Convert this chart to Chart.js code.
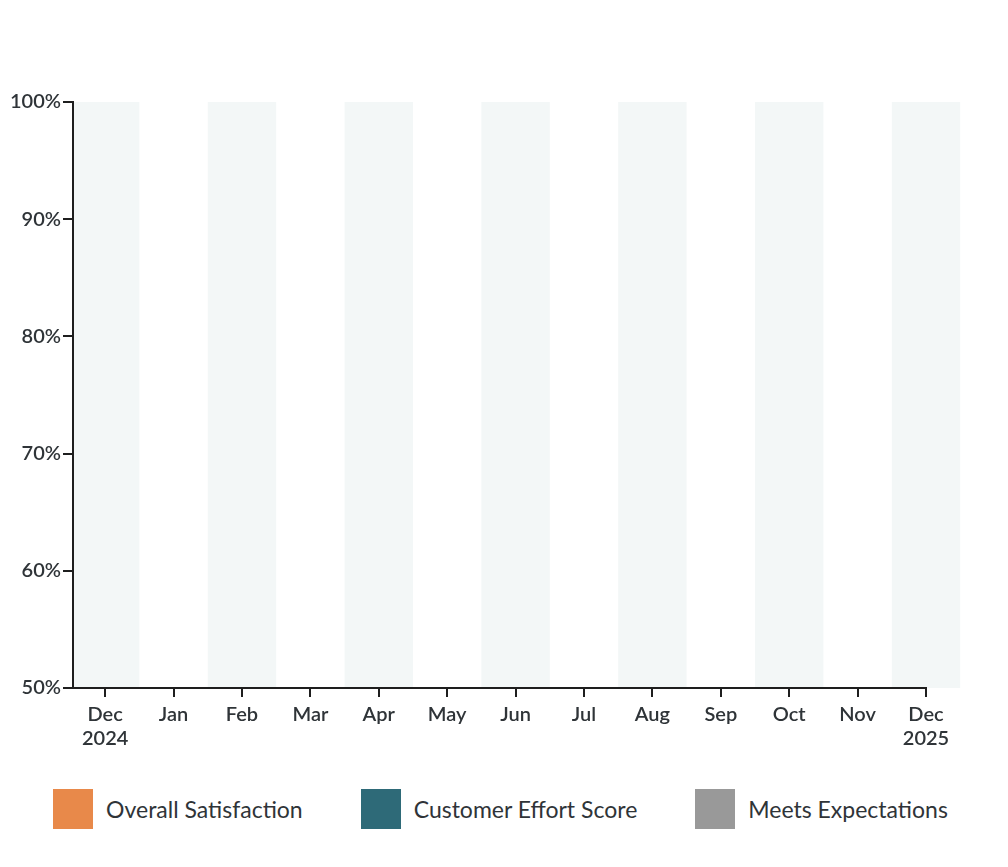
<!DOCTYPE html>
<html>
<head>
<meta charset="utf-8">
<script src="https://cdn.jsdelivr.net/npm/chart.js@4"></script>
<style>
  html, body { margin: 0; padding: 0; background: #fff; }
  #wrap { position: relative; width: 1008px; height: 867px; }
  #trend-chart { display: block; }
  #trend-legend {
    position: absolute; left: 0; top: 789px; width: 1001px;
    display: flex; justify-content: center; gap: 58px;
    font-family: Lato, sans-serif; font-size: 23px; color: #2f3438;
  }
  #trend-legend .item { display: flex; align-items: center; height: 40px; }
  #trend-legend .box { width: 40px; height: 40px; margin-right: 13px; }
</style>
</head>
<body>
<div id="wrap">
  <canvas id="trend-chart" width="1008" height="760"></canvas>
  <div id="trend-legend"></div>
</div>
<script>
// months on the x axis (multi-line labels for the year ends)
const month_labels = [['Dec', '2024'], 'Jan', 'Feb', 'Mar', 'Apr', 'May', 'Jun', 'Jul', 'Aug', 'Sep', 'Oct', 'Nov', ['Dec', '2025']];
// months that get a shaded column behind them
const shaded_months = [0, 2, 4, 6, 8, 10, 12];
// y ticks
const y_ticks = [50, 60, 70, 80, 90, 100];

// series (no points plotted in this period)
const series_names = ['Overall Satisfaction', 'Customer Effort Score', 'Meets Expectations'];
const series_colors = ['#E8894A', '#2E6A78', '#999999'];
const overall_satisfaction = [];
const customer_effort_score = [];
const meets_expectations = [];
const series_values = [overall_satisfaction, customer_effort_score, meets_expectations];

const text_color = '#2f3438';
const axis_color = '#1e1e1e';

// shaded month columns, drawn under the axes
const bands_plugin = {
    id: 'monthBands',
    beforeDraw(chart) {
        const ctx = chart.ctx;
        const area = chart.chartArea;
        const x = chart.scales.x;
        ctx.save();
        ctx.fillStyle = '#F3F7F7';
        shaded_months.forEach(i => {
            let x0 = Math.max(x.getPixelForValue(i - 0.5), area.left + 1);
            let x1 = x.getPixelForValue(i + 0.5);
            ctx.fillRect(x0, area.top, x1 - x0, area.bottom - area.top);
        });
        ctx.restore();
    }
};

const datasets = series_names.map((name, i) => ({
    label: name,
    data: series_values[i],
    borderColor: series_colors[i],
    backgroundColor: series_colors[i],
    borderWidth: 3
}));

const chart = new Chart(document.getElementById('trend-chart'), {
    type: 'line',
    data: { datasets: datasets },
    plugins: [bands_plugin],
    options: {
        responsive: false,
        animation: false,
        layout: { padding: { top: 102, left: 8, right: 82, bottom: 3 } },
        scales: {
            x: {
                type: 'linear',
                min: -0.47,
                max: month_labels.length - 1,
                afterBuildTicks: (scale) => {
                    scale.ticks = month_labels.map((m, i) => ({ value: i }));
                },
                grid: {
                    display: true,
                    drawOnChartArea: false,
                    drawTicks: true,
                    tickLength: 9,
                    color: axis_color,
                    lineWidth: 2
                },
                border: { display: true, color: axis_color, width: 2 },
                ticks: {
                    autoSkip: false,
                    maxRotation: 0,
                    padding: 6,
                    color: text_color,
                    font: { family: 'Lato', size: 20, weight: '600', lineHeight: 1.2 },
                    callback: (v) => month_labels[v]
                }
            },
            y: {
                min: y_ticks[0],
                max: y_ticks[y_ticks.length - 1],
                afterBuildTicks: (scale) => {
                    scale.ticks = y_ticks.map(v => ({ value: v }));
                },
                grid: {
                    display: true,
                    drawOnChartArea: false,
                    drawTicks: true,
                    tickLength: 10,
                    color: axis_color,
                    lineWidth: 2
                },
                border: { display: true, color: axis_color, width: 2 },
                ticks: {
                    padding: 2,
                    color: text_color,
                    font: { family: 'Lato', size: 20, weight: '600' },
                    callback: (v) => v + '%'
                }
            }
        },
        plugins: {
            legend: { display: false },
            tooltip: { enabled: false }
        }
    }
});

// html legend built from the datasets
let html = '';
chart.data.datasets.forEach(d => {
    html += `<div class="item"><span class="box" style="background:${d.backgroundColor}"></span>${d.label}</div>`;
});
document.getElementById('trend-legend').innerHTML = html;
</script>
</body>
</html>
